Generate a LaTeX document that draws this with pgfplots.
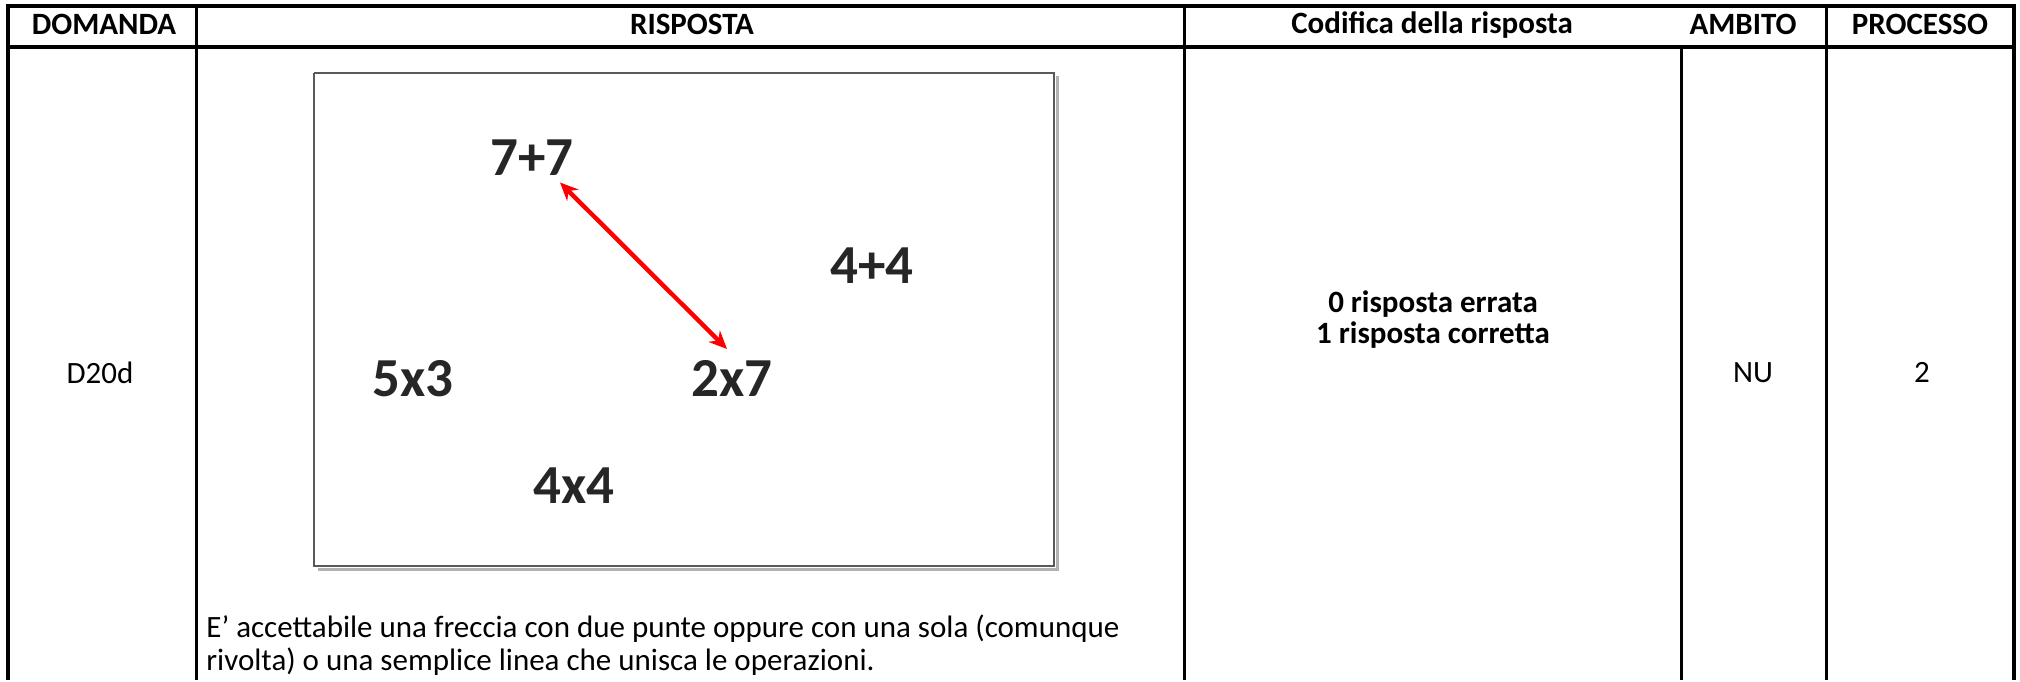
\documentclass[border=0pt]{standalone}
\usepackage{pgfplots}
\pgfplotsset{compat=1.18}
\usepackage{fontspec}
\setmainfont{Carlito}
\usetikzlibrary{arrows.meta}
\begin{document}
\begin{tikzpicture}
\begin{axis}[width=1010pt,height=340pt,scale only axis,xmin=0,xmax=2020,ymin=0,ymax=682,y dir=reverse,hide axis,clip=false]
\path (axis cs:0,0) rectangle (axis cs:2020,682);
% table frame
\addplot[black,line width=1.8pt] coordinates {(8,682) (8,6) (2014,6) (2014,682)};
\addplot[black,line width=1.8pt] coordinates {(8,47) (2014,47)};
\addplot[black,line width=1.5pt] coordinates {(196,6) (196,682)};
\addplot[black,line width=1.5pt] coordinates {(1184,6) (1184,682)};
\addplot[black,line width=1.5pt] coordinates {(1681,47) (1681,682)};
\addplot[black,line width=1.5pt] coordinates {(1826,6) (1826,682)};
% inner box
\addplot[black!30,line width=1.5pt] coordinates {(318,571) (1057,571) (1057,76)};
\addplot[black!65,line width=1pt] coordinates {(314,73) (1054,73) (1054,568) (314,568) (314,73)};
% arrow
\addplot[red,line width=2.2pt,{Stealth[length=9pt,width=8pt]}-{Stealth[length=9pt,width=8pt]}] coordinates {(560,183) (727,350)};
% styles
\tikzset{hd/.style={font=\bfseries\fontsize{15.5}{18}\selectfont},bd/.style={font=\fontsize{15.5}{18}\selectfont},op/.style={font=\bfseries\fontsize{27.5}{30}\selectfont,text=black!85}}
\node[hd] at (axis cs:104,25) {DOMANDA};
\node[hd] at (axis cs:692,25) {RISPOSTA};
\node[hd] at (axis cs:1432,25) {Codifica della risposta};
\node[hd] at (axis cs:1743,25) {AMBITO};
\node[hd] at (axis cs:1920,25) {PROCESSO};
% body
\node[bd] at (axis cs:100,374) {D20d};
\node[hd] at (axis cs:1433,305) {0 risposta errata};
\node[hd] at (axis cs:1433,336) {1 risposta corretta};
\node[bd] at (axis cs:1753,374) {NU};
\node[bd] at (axis cs:1922,374) {2};
% operations
\node[op] at (axis cs:532,158) {7+7};
\node[op] at (axis cs:872,266) {4+4};
\node[op] at (axis cs:413,380) {5x3};
\node[op] at (axis cs:732,380) {2x7};
\node[op] at (axis cs:574,487) {4x4};
% note
\node[bd,anchor=west,inner sep=0pt] at (axis cs:206,631) {E’ accettabile una freccia con due punte oppure con una sola (comunque};
\node[bd,anchor=west,inner sep=0pt] at (axis cs:206,664) {rivolta) o una semplice linea che unisca le operazioni.};
\end{axis}
\end{tikzpicture}
\end{document}
